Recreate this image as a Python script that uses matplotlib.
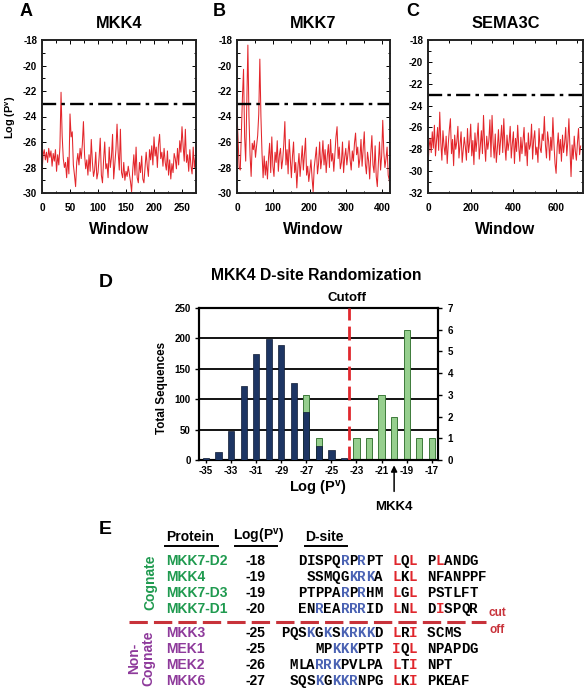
import matplotlib
matplotlib.use('Agg')
import matplotlib.pyplot as plt
from matplotlib.lines import Line2D
from matplotlib.ticker import AutoMinorLocator
import numpy as np

plt.rcParams['font.family'] = ['Liberation Sans', 'DejaVu Sans']
plt.rcParams['font.weight'] = 'bold'
plt.rcParams['axes.labelweight'] = 'bold'
plt.rcParams['axes.titleweight'] = 'bold'
plt.rcParams['axes.unicode_minus'] = False
plt.rcParams['mathtext.fontset'] = 'custom'
plt.rcParams['mathtext.rm'] = 'Liberation Sans:bold'
plt.rcParams['mathtext.bf'] = 'Liberation Sans:bold'
plt.rcParams['mathtext.it'] = 'Liberation Sans:bold'

# ---------------- data ----------------
cutoff_logp = -23

mkk4_step = 2
mkk4_logp = [
    -28.4, -27.0, -26.6, -27.4, -26.8, -27.6, -26.5, -27.2, -26.7, -27.9,
    -26.9, -27.5, -26.6, -28.3, -27.0, -27.8, -26.4, -22.1, -25.5, -27.3,
    -28.0, -27.6, -28.8, -27.2, -28.5, -23.8, -25.6, -25.2, -27.8, -28.6,
    -29.5, -27.6, -26.9, -27.8, -26.5, -27.3, -26.2, -24.4, -27.0, -28.1,
    -27.4, -28.6, -27.0, -28.3, -25.8, -27.6, -28.7, -28.2, -26.8, -28.9,
    -28.4, -27.2, -25.7, -28.6, -29.2, -27.4, -26.0, -28.1, -27.7, -28.8,
    -26.4, -28.0, -27.2, -25.4, -28.9, -27.8, -26.6, -24.6, -26.8, -28.2,
    -25.0, -28.4, -28.8, -27.6, -29.0, -28.3, -28.7, -27.9, -28.5, -29.1,
    -29.9, -28.2, -27.0, -28.6, -26.4, -28.8, -29.2, -27.6, -28.4, -27.1,
    -28.9, -29.2, -28.0, -26.8, -27.9, -28.7, -26.6, -27.4, -26.3, -27.8,
    -25.6, -27.1, -26.4, -28.0, -26.2, -25.4, -27.3, -26.8, -27.9, -26.5,
    -27.6, -28.2, -26.7, -28.6, -27.4, -28.9, -27.7, -28.4, -26.9, -27.3,
    -28.1, -26.5, -27.8, -25.9, -26.8, -24.8, -26.3, -27.5, -25.0, -27.6,
    -27.0, -28.3, -26.6, -27.9, -28.5, -26.4, -28.0, -27.2, -28.6, -27.4,
]

mkk7_step = 3
mkk7_logp = [
    -23.7, -25.9, -28.0, -28.2, -25.4, -22.5, -20.3, -25.6, -27.5, -23.0,
    -18.4, -24.0, -27.0, -28.7, -26.1, -26.6, -25.9, -27.2, -26.3, -25.5,
    -23.8, -19.5, -24.0, -26.9, -28.8, -27.1, -28.6, -27.5, -28.9, -27.2,
    -26.1, -28.4, -25.6, -27.9, -28.7, -26.8, -27.6, -25.9, -28.3, -27.0,
    -26.5, -28.1, -27.4, -26.2, -24.4, -27.8, -26.6, -28.5, -25.8, -27.3,
    -28.8, -27.1, -26.0, -28.4, -27.6, -29.6, -28.0, -26.9, -28.7, -27.5,
    -26.3, -28.2, -27.0, -25.7, -28.6, -27.9, -29.1, -28.3, -27.4, -28.8,
    -29.9, -28.0, -27.2, -26.4, -28.5, -27.7, -26.0, -28.1, -27.3, -25.9,
    -27.8, -26.6, -28.4, -27.1, -26.2, -28.0, -25.8, -27.5, -26.9, -28.3,
    -27.0, -25.6, -24.8, -27.3, -26.4, -28.1, -27.6, -26.0, -28.4, -27.2,
    -26.5, -27.8, -26.9, -25.9, -27.4, -28.2, -26.7, -27.5, -26.1, -25.3,
    -27.0, -26.4, -28.0, -27.3, -25.8, -27.9, -26.6, -25.2, -27.7, -28.5,
    -26.8, -27.5, -28.9, -26.9, -25.5, -27.8, -28.4, -26.3, -28.7, -29.5,
    -27.6, -26.0, -28.2, -27.1, -24.3, -26.8, -28.0, -27.3, -26.4, -28.6,
    -29.0, -29.7, -26.5, -24.4,
]

sema3c_step = 5
sema3c_logp = [
    -29.5, -27.8, -27.0, -28.3, -26.4, -27.9, -25.8, -28.6, -27.2, -26.0,
    -28.1, -24.6, -27.4, -29.0, -26.3, -27.7, -28.5, -26.8, -29.3, -27.5,
    -26.2, -25.2, -28.4, -27.1, -29.5, -26.7, -28.0, -27.3, -25.9, -28.8,
    -27.6, -26.4, -29.2, -28.1, -26.9, -27.8, -29.0, -26.1, -28.3, -27.4,
    -25.7, -28.6, -27.2, -29.4, -26.5, -28.2, -27.0, -25.6, -28.9, -27.7,
    -26.3, -28.4, -24.9, -27.5, -29.1, -26.8, -28.0, -27.2, -25.3, -28.7,
    -24.9, -27.4, -28.8, -26.6, -29.2, -27.9, -26.2, -28.5, -27.1, -25.8,
    -28.3, -25.2, -27.6, -29.0, -26.7, -28.1, -27.3, -25.9, -28.8, -27.5,
    -26.4, -29.3, -27.0, -28.2, -25.8, -27.7, -29.1, -26.9, -28.4, -27.2,
    -26.0, -28.6, -27.4, -29.5, -26.5, -28.0, -27.6, -25.7, -28.9, -27.1,
    -26.3, -28.5, -27.8, -29.2, -26.1, -27.9, -28.3, -26.6, -27.2, -25.0,
    -27.6, -28.8, -26.4, -27.3, -29.0, -26.9, -28.1, -25.1, -27.5, -29.3,
    -30.2, -27.8, -26.5, -28.4, -27.1, -29.1, -26.7, -28.3, -27.4, -26.0,
    -28.6, -27.3, -25.2, -28.0, -30.5, -27.6, -28.9, -26.8, -28.2, -29.0,
    -27.4, -26.1, -28.5, -27.7,
]

# Panel D histogram
log_bins = [-35, -34, -33, -32, -31, -30, -29, -28, -27, -26,
            -25, -24, -23, -22, -21, -20, -19, -18, -17]
random_counts = [3, 13, 48, 121, 174, 199, 189, 126, 79, 23,
                 17, 3, 0, 0, 0, 0, 0, 0, 0]
above_counts = [0, 0, 0, 0, 0, 0, 0, 0, 3, 1,
                0, 0, 1, 1, 3, 2, 6, 1, 1]
left_ticks = [0, 50, 100, 150, 200, 250]
right_ticks = [0, 1, 2, 3, 4, 5, 6, 7]
xtick_bins = [-35, -33, -31, -29, -27, -25, -23, -21, -19, -17]
cutoff_bin = -23.6
mkk4_bin = -20

# Panel E table
proteins = ['MKK7-D2', 'MKK4', 'MKK7-D3', 'MKK7-D1', 'MKK3', 'MEK1', 'MEK2', 'MKK6']
protein_logp = ['-18', '-19', '-19', '-20', '-25', '-25', '-26', '-27']
dsite_prefix = ['DISPQRPRPT', 'SSMQGKRKA', 'PTPPARPRHM', 'ENREARRRID',
                'PQSKGKSKRKKD', 'MPKKKPTP', 'MLARRKPVLPA', 'SQSKGKKRNPG']
dsite_core = ['LQL', 'LKL', 'LGL', 'LNL', 'LRI', 'IQL', 'LTI', 'LKI']
dsite_suffix = ['PLANDG', 'NFANPPF', 'PSTLFT', 'DISPQR', 'SCMS', 'NPAPDG', 'NPT', 'PKEAF']
is_cognate = [True, True, True, True, False, False, False, False]

# ---------------- figure ----------------
W, H = 587, 690
fig = plt.figure(figsize=(W / 100, H / 100), dpi=100)


def ax_px(l, t, r, b):
    return fig.add_axes([l / W, 1 - b / H, (r - l) / W, (b - t) / H])


def fx(x):
    return x / W


def fy(y):
    return 1 - y / H


RED = '#e3262b'


def line_panel(rect, step, ys, xmax, xticks, ylim, title, letter, letter_x, ylabel=False):
    ax = ax_px(*rect)
    xs = np.arange(len(ys)) * step
    ax.plot(xs, ys, color=RED, lw=0.75)
    ax.axhline(cutoff_logp, color='black', lw=1.7, ls=(0, (6, 2.2, 1.5, 2.2)))
    ax.set_xlim(0, xmax)
    ax.set_ylim(*ylim)
    ax.set_xticks(xticks)
    ax.set_yticks(np.arange(ylim[0], ylim[1] + 1, 2))
    ax.xaxis.set_minor_locator(AutoMinorLocator(2))
    ax.yaxis.set_minor_locator(AutoMinorLocator(2))
    ax.tick_params(which='both', direction='in', top=True, right=True, width=0.7)
    ax.tick_params(which='major', length=3)
    ax.tick_params(which='minor', length=1.8)
    ax.tick_params(axis='x', labelsize=7.3, pad=7.5)
    ax.tick_params(axis='y', labelsize=7, pad=3.5)
    for s in ax.spines.values():
        s.set_linewidth(1.4)
        s.set_color('#222222')
    cx = (rect[0] + rect[2]) / 2
    fig.text(fx(cx), fy(23), title, ha='center', va='center', fontsize=11.8)
    fig.text(fx(cx), fy(230), 'Window', ha='center', va='center', fontsize=11.3)
    fig.text(fx(letter_x), fy(12), letter, ha='center', va='center', fontsize=13)
    if ylabel:
        fig.text(fx(11), fy(117), r'Log (P$^{\mathbf{v}}$)', ha='center', va='center',
                 rotation=90, fontsize=7.8)
    return ax


line_panel((42, 40, 196, 193), mkk4_step, mkk4_logp, 275, [0, 50, 100, 150, 200, 250],
           (-30, -18), 'MKK4', 'A', 26, ylabel=True)
line_panel((237, 40, 390, 193), mkk7_step, mkk7_logp, 422, [0, 100, 200, 300, 400],
           (-30, -18), 'MKK7', 'B', 219)
line_panel((428, 40, 583, 193), sema3c_step, sema3c_logp, 726, [0, 200, 400, 600],
           (-32, -18), 'SEMA3C', 'C', 413)

# ---------------- Panel D ----------------
axL = ax_px(199, 308, 438, 460)
axR = axL.twinx()
axL.set_zorder(2)
axR.set_zorder(1)
axL.patch.set_visible(False)

NAVY = '#1d3563'
GREEN = '#96cf8e'
rmax = 7
lmax = 250
for v in [50, 100, 150, 200]:
    axR.axhline(v * rmax / lmax, color='black', lw=1.3, zorder=0)
axR.bar(log_bins, above_counts, width=0.5, color=GREEN, edgecolor='#3d7a3a', lw=0.7, zorder=2)
axL.bar(log_bins, random_counts, width=0.5, color=NAVY, edgecolor='#0e1a33', lw=0.5, zorder=3)
axL.axvline(cutoff_bin, color='#e0282e', lw=2.0, ls=(0, (5, 2.2)), zorder=4)

axL.set_xlim(-35.56, -16.5)
axL.set_ylim(0, lmax)
axR.set_ylim(0, rmax)
axL.set_yticks(left_ticks)
axR.set_yticks(right_ticks)
axL.set_xticks(xtick_bins)
axL.set_xticklabels([str(v) for v in xtick_bins])
axL.tick_params(axis='y', labelsize=7, length=3, width=1, pad=3)
axR.tick_params(axis='y', labelsize=7, length=3, width=1, pad=4)
axL.tick_params(axis='x', labelsize=7, length=2.5, width=1, pad=2)
for a in (axL, axR):
    for s in a.spines.values():
        s.set_linewidth(1.5)
        s.set_color('black')

fig.text(fx(316), fy(275), 'MKK4 D-site Randomization', ha='center', va='center', fontsize=11.3)
fig.text(fx(347), fy(298), 'Cutoff', ha='center', va='center', fontsize=9.5)
fig.text(fx(318), fy(489), r'Log (P$^{\mathbf{v}}$)', ha='center', va='center', fontsize=10.5)
fig.text(fx(162), fy(388), 'Total Sequences', ha='center', va='center', rotation=90, fontsize=8.4)
fig.text(fx(106), fy(282), 'D', ha='center', va='center', fontsize=14)
axL.annotate('MKK4', xy=(mkk4_bin, -0.035), xycoords=('data', 'axes fraction'),
             xytext=(mkk4_bin, -0.31), textcoords=('data', 'axes fraction'),
             ha='center', va='center', fontsize=9.5, annotation_clip=False,
             arrowprops=dict(arrowstyle='-|>', color='black', lw=1.1, shrinkA=5, shrinkB=0,
                             mutation_scale=9))

# ---------------- Panel E ----------------
fig.text(fx(105), fy(530), 'E', ha='center', va='center', fontsize=14)
HDR_Y = 537
fig.text(fx(166), fy(HDR_Y), 'Protein', ha='left', va='center', fontsize=10)
fig.text(fx(233), fy(HDR_Y), r'Log(P$^{\mathbf{v}}$)', ha='left', va='center', fontsize=10)
fig.text(fx(305), fy(HDR_Y), 'D-site', ha='left', va='center', fontsize=10)
for x0, x1 in [(165, 218), (235, 277), (305, 347)]:
    fig.add_artist(Line2D([fx(x0), fx(x1)], [fy(546), fy(546)], color='black', lw=1.4))

COG = '#1f9a4f'
NONCOG = '#8e3a9b'
BLUE = '#4a62b3'
SRED = '#e0262c'
CHW = 8.5
mono = dict(family='Liberation Mono', fontsize=10.2, fontweight='bold', va='center', ha='center')


def char_color(part, i, ch):
    if part == 'prefix' and ch in 'KR':
        return BLUE
    if part == 'core' and i in (0, 2):
        return SRED
    if part == 'suffix' and i == 1 and ch in 'LIV':
        return SRED
    return 'black'


for k in range(len(proteins)):
    y = (561 + 16 * k) if is_cognate[k] else (633 + 16 * (k - 4))
    col = COG if is_cognate[k] else NONCOG
    fig.text(fx(166), fy(y), proteins[k], ha='left', va='center', fontsize=10, color=col)
    fig.text(fx(245), fy(y), protein_logp[k], ha='left', va='center', fontsize=10, color='black')
    pre = dsite_prefix[k]
    start = 383 - CHW * len(pre)
    for i, ch in enumerate(pre):
        fig.text(fx(start + (i + 0.5) * CHW), fy(y), ch, color=char_color('prefix', i, ch), **mono)
    for i, ch in enumerate(dsite_core[k]):
        fig.text(fx(392 + (i + 0.5) * CHW), fy(y), ch, color=char_color('core', i, ch), **mono)
    for i, ch in enumerate(dsite_suffix[k]):
        fig.text(fx(427 + (i + 0.5) * CHW), fy(y), ch, color=char_color('suffix', i, ch), **mono)

fig.text(fx(150), fy(582), 'Cognate', rotation=90, ha='center', va='center', fontsize=10, color=COG)
fig.text(fx(141), fy(658), 'Non-\nCognate', rotation=90, ha='center', va='center',
         multialignment='center', fontsize=10, color=NONCOG, linespacing=1.0)
fig.add_artist(Line2D([fx(129), fx(486)], [fy(622), fy(622)], color='#c8323a', lw=2.2,
                      ls=(0, (6, 2))))
fig.text(fx(497), fy(613), 'cut', ha='center', va='center', fontsize=8.5, color='#c8323a')
fig.text(fx(497), fy(630), 'off', ha='center', va='center', fontsize=8.5, color='#c8323a')

fig.savefig('out.png', dpi=100)
